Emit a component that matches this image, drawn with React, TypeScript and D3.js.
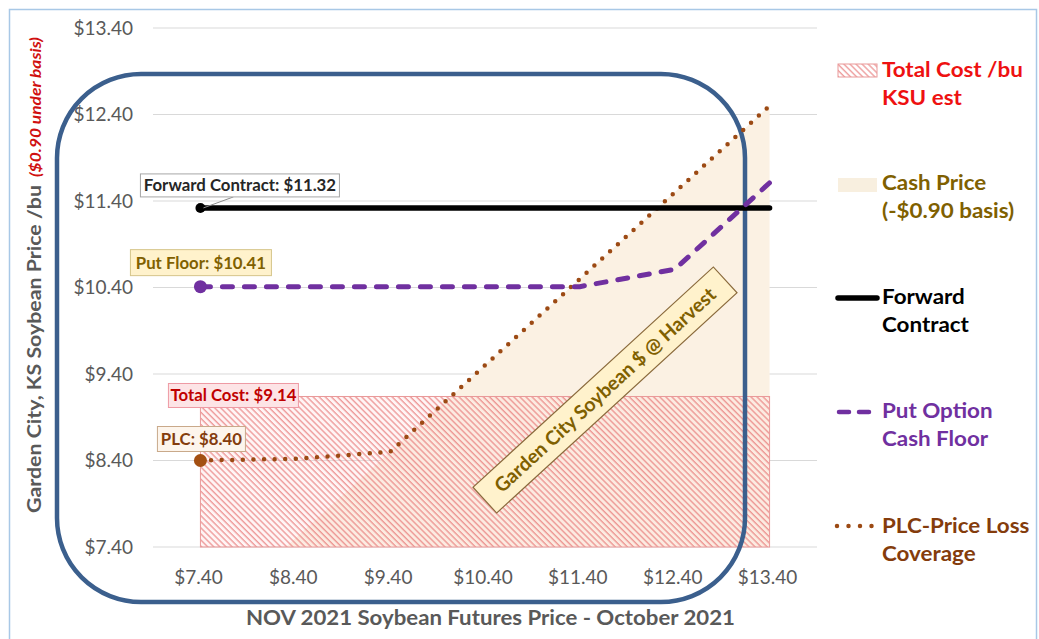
import React from "react";
import * as d3 from "d3";

// NOV 2021 soybean futures (x) and the resulting Garden City cash outcomes (y), $/bu
const futuresPrices = [7.4, 8.4, 9.4, 10.4, 11.4, 12.4, 13.4];
const cashPrice = [6.5, 7.5, 8.5, 9.5, 10.5, 11.5, 12.5];
const forwardContract = [11.32, 11.32, 11.32, 11.32, 11.32, 11.32, 11.32];
const putFloor = [10.41, 10.41, 10.41, 10.41, 10.41, 10.61, 11.61];
const plcPrice = [8.4, 8.42, 8.5, 9.5, 10.5, 11.5, 12.5];
const totalCost = [9.14, 9.14, 9.14, 9.14, 9.14, 9.14, 9.14];

const yTicks = [7.4, 8.4, 9.4, 10.4, 11.4, 12.4, 13.4];
const xTicks = [7.4, 8.4, 9.4, 10.4, 11.4, 12.4, 13.4];

const legendItems = [
  { key: "cost", lines: ["Total Cost /bu", "KSU est"], color: "#ee1111" },
  { key: "cash", lines: ["Cash Price", "(-$0.90 basis)"], color: "#7f6000" },
  { key: "fwd", lines: ["Forward", "Contract"], color: "#000000" },
  { key: "put", lines: ["Put Option", "Cash Floor"], color: "#7030a0" },
  { key: "plc", lines: ["PLC-Price Loss", "Coverage"], color: "#843c0c" },
];

const W = 1039;
const H = 639;
const FONT = "Lato, 'Open Sans', sans-serif";

const GRAY = "#595959";
const PURPLE = "#7030a0";
const BROWN = "#9c4a14";
const BROWN_TEXT = "#843c0c";
const OLIVE = "#7f6000";
const BEIGE = "#fbf1e3";

const fmt = (v: number) => `$${v.toFixed(2)}`;

export default function App() {
  const plot = { left: 153, right: 817, top: 28, bottom: 547 };
  const x = d3.scaleLinear().domain([6.9, 13.9]).range([plot.left, plot.right]);
  const y = d3.scaleLinear().domain([7.4, 13.4]).range([plot.bottom, plot.top]);

  const pts = (vals: number[]) => futuresPrices.map((f, i) => [f, vals[i]] as [number, number]);
  const line = d3
    .line<[number, number]>()
    .x((d) => x(d[0]))
    .y((d) => y(d[1]));
  const cashArea = d3
    .area<[number, number]>()
    .x((d) => x(d[0]))
    .y0(y(7.4))
    .y1((d) => y(d[1]));

  const x0 = x(futuresPrices[0]);
  const x1 = x(futuresPrices[futuresPrices.length - 1]);
  const costTop = y(totalCost[0]);

  const fwdM = { x: x0, y: y(forwardContract[0]) };
  const putM = { x: x0, y: y(putFloor[0]) };
  const plcM = { x: x0, y: y(plcPrice[0]) };

  // legend layout
  const lgX = 882;
  const swX = 837;
  const rowY = [70, 183, 297, 411, 526];
  const lineGap = 28.5;
  const LBL = 16.8;

  const swatch = (key: string, cy: number) => {
    switch (key) {
      case "cost":
        return <rect x={swX + 1} y={cy - 6} width={39} height={13} fill="url(#costHatch)" stroke="#e99a9a" strokeWidth={1} />;
      case "cash":
        return <rect x={swX + 1} y={cy - 5} width={39} height={14} fill="#f8efdf" />;
      case "fwd":
        return <line x1={swX + 1} x2={swX + 40} y1={cy + 1} y2={cy + 1} stroke="#000" strokeWidth={5.5} strokeLinecap="round" />;
      case "put":
        return (
          <line x1={swX + 2} x2={swX + 36} y1={cy + 1} y2={cy + 1} stroke={PURPLE} strokeWidth={4.5} strokeLinecap="round" strokeDasharray="10 10" />
        );
      default:
        return (
          <line x1={swX} x2={swX + 36} y1={cy} y2={cy} stroke={BROWN} strokeWidth={4.5} strokeLinecap="round" strokeDasharray="0 11.5" />
        );
    }
  };

  return (
    <svg
      width={W}
      height={H}
      viewBox={`0 0 ${W} ${H}`}
      style={{ position: "absolute", left: 0, top: 0, background: "#fff" }}
      fontFamily={FONT}
    >
      <defs>
        <pattern id="costHatch" width={4.3} height={4.3} patternUnits="userSpaceOnUse" patternTransform="rotate(-45)">
          <line x1={1} y1={0} x2={1} y2={4.3} stroke="#e46a6a" strokeWidth={1.3} strokeOpacity={0.7} />
        </pattern>
        <clipPath id="plotClip">
          <rect x={plot.left} y={plot.top} width={plot.right - plot.left} height={plot.bottom - plot.top} />
        </clipPath>
      </defs>

      {/* page frame */}
      <rect x={9.5} y={9.5} width={1027} height={660} fill="none" stroke="#a8c8e6" strokeWidth={1.5} />

      {/* horizontal gridlines */}
      {yTicks.map((t) => (
        <line key={t} x1={plot.left} x2={plot.right} y1={y(t)} y2={y(t)} stroke="#d9d9d9" strokeWidth={1.2} />
      ))}

      {/* cash price area */}
      <path d={cashArea(pts(cashPrice)) ?? ""} fill={BEIGE} clipPath="url(#plotClip)" />

      {/* total cost band */}
      <rect x={x0} y={costTop} width={x1 - x0} height={y(7.4) - costTop} fill="#ffdede" fillOpacity={0.3} />
      <rect x={x0} y={costTop} width={x1 - x0} height={y(7.4) - costTop} fill="url(#costHatch)" stroke="#e99a9a" strokeWidth={1} />

      {/* axis tick labels */}
      {yTicks.map((t) => (
        <text key={t} x={133} y={y(t)} dy="0.35em" textAnchor="end" fontSize={19} fill={GRAY}>
          {fmt(t)}
        </text>
      ))}
      {xTicks.map((t) => (
        <text key={t} x={x(t) - 2} y={577} dy="0.35em" textAnchor="middle" fontSize={19} fill={GRAY}>
          {fmt(t)}
        </text>
      ))}

      {/* axis titles */}
      <text
        transform="translate(41, 513) rotate(-90)"
        textAnchor="start"
        fontWeight="bold"
        fontSize={18.5}
        fill={GRAY}
        textLength={328}
        lengthAdjust="spacingAndGlyphs"
      >
        Garden City, KS Soybean Price /bu
      </text>
      <text
        transform="translate(41, 177) rotate(-90)"
        textAnchor="start"
        fontWeight="bold"
        fontStyle="italic"
        fontSize={15}
        fill="#d01010"
        textLength={140}
        lengthAdjust="spacingAndGlyphs"
      >
        ($0.90 under basis)
      </text>
      <text
        x={246}
        y={618}
        dy="0.35em"
        fontWeight="bold"
        fontSize={21}
        fill={GRAY}
        textLength={489}
        lengthAdjust="spacingAndGlyphs"
      >
        NOV 2021 Soybean Futures Price - October 2021
      </text>

      {/* highlight frame */}
      <rect x={57} y={74} width={688} height={528} rx={84} ry={84} fill="none" stroke="#3b5f8d" strokeWidth={4.5} />

      {/* series lines */}
      <path d={line(pts(plcPrice)) ?? ""} fill="none" stroke={BROWN} strokeWidth={4.5} strokeLinecap="round" strokeDasharray="0 10.6" />
      <path d={line(pts(forwardContract)) ?? ""} fill="none" stroke="#000" strokeWidth={5.5} strokeLinecap="round" />
      <path d={line(pts(putFloor)) ?? ""} fill="none" stroke={PURPLE} strokeWidth={5} strokeLinecap="round" strokeDasharray="10 12" />

      {/* start markers */}
      <circle cx={fwdM.x} cy={fwdM.y} r={5} fill="#000" />
      <circle cx={putM.x} cy={putM.y} r={6.5} fill={PURPLE} />
      <circle cx={plcM.x} cy={plcM.y} r={6.5} fill="#a34f12" />

      {/* data callouts */}
      <line x1={fwdM.x + 3} y1={fwdM.y} x2={fwdM.x + 33} y2={fwdM.y - 11} stroke="#8c8c8c" strokeWidth={1} />
      <rect x={fwdM.x - 60} y={fwdM.y - 34} width={199} height={23} fill="#fff" stroke="#a6a6a6" strokeWidth={1} />
      <text x={fwdM.x + 39.5} y={fwdM.y - 22.5} dy="0.35em" textAnchor="middle" fontWeight="bold" fontSize={LBL} fill="#262626">
        {`Forward Contract: ${fmt(forwardContract[0])}`}
      </text>

      <rect x={putM.x - 70} y={putM.y - 37} width={141} height={26} fill="#fff2cc" stroke="#d6c58a" strokeWidth={1} />
      <text x={putM.x + 0.5} y={putM.y - 24} dy="0.35em" textAnchor="middle" fontWeight="bold" fontSize={LBL} fill={OLIVE}>
        {`Put Floor: ${fmt(putFloor[0])}`}
      </text>

      <rect x={x0 - 32} y={costTop - 13} width={130} height={24} fill="#fde4e6" stroke="#ee9aa4" strokeWidth={1} />
      <text x={x0 + 33} y={costTop - 1} dy="0.35em" textAnchor="middle" fontWeight="bold" fontSize={LBL} fill="#c00000">
        {`Total Cost: ${fmt(totalCost[0])}`}
      </text>

      <rect x={plcM.x - 43} y={plcM.y - 34} width={88} height={25} fill="#fdf5ec" stroke="#c9a98a" strokeWidth={1} />
      <text x={plcM.x + 1} y={plcM.y - 21.5} dy="0.35em" textAnchor="middle" fontWeight="bold" fontSize={LBL} fill={BROWN_TEXT}>
        {`PLC: ${fmt(plcPrice[0])}`}
      </text>

      {/* rotated region label */}
      <g transform="translate(605, 390) rotate(-42.5)">
        <rect x={-163} y={-17.5} width={326} height={35} fill="#fff2cc" stroke="#8a6a3c" strokeWidth={1.2} />
        <text x={0} y={0} dy="0.35em" textAnchor="middle" fontWeight="bold" fontSize={19.5} fill={OLIVE}>
          Garden City Soybean $ @ Harvest
        </text>
      </g>

      {/* legend */}
      {legendItems.map((item, i) => (
        <g key={item.key}>
          {swatch(item.key, rowY[i])}
          <g transform={`translate(${lgX}, 0) scale(1.12, 1)`}>
            {item.lines.map((ln, j) => (
              <text key={ln} x={0} y={rowY[i] + j * lineGap} dy="0.35em" fontWeight="bold" fontSize={20} fill={item.color}>
                {ln}
              </text>
            ))}
          </g>
        </g>
      ))}
    </svg>
  );
}
